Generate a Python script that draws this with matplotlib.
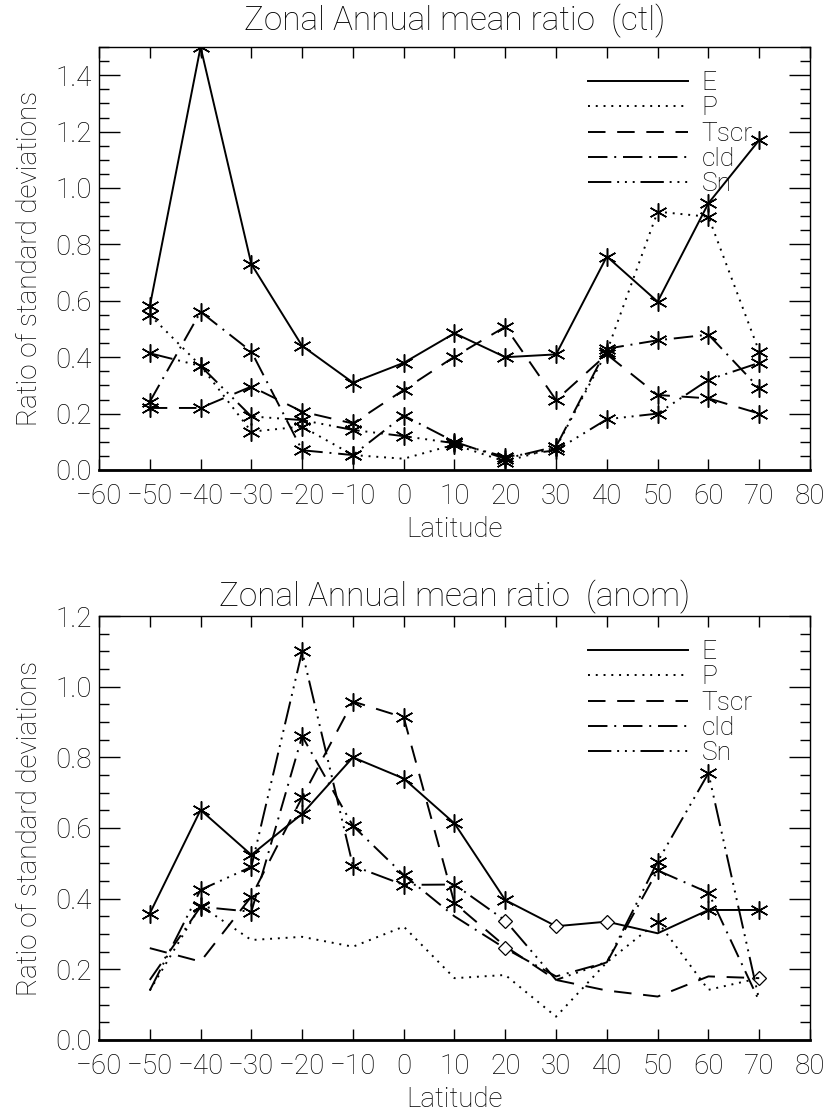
import matplotlib
matplotlib.use("Agg")
import matplotlib.pyplot as plt
import numpy as np

plt.rcParams['font.family'] = ['Roboto', 'DejaVu Sans']
plt.rcParams['font.weight'] = 'light'
plt.rcParams['axes.titleweight'] = 'light'
plt.rcParams['axes.labelweight'] = 'light'

lat = [-50, -40, -30, -20, -10, 0, 10, 20, 30, 40, 50, 60, 70]
series_names = ["E", "P", "Tscr", "cld", "Sn"]

# ctl panel
E_ctl    = [0.58, 1.50, 0.73, 0.44, 0.31, 0.38, 0.485, 0.40, 0.41, 0.757, 0.597, 0.946, 1.17]
P_ctl    = [0.55, 0.37, 0.136, 0.154, 0.053, 0.04, 0.09, 0.03, 0.08, 0.42, 0.916, 0.898, 0.42]
Tscr_ctl = [0.22, 0.22, 0.296, 0.207, 0.165, 0.284, 0.402, 0.508, 0.248, 0.41, 0.266, 0.254, 0.20]
cld_ctl  = [0.242, 0.561, 0.42, 0.07, 0.053, 0.193, 0.10, 0.04, 0.083, 0.43, 0.46, 0.48, 0.29]
Sn_ctl   = [0.414, 0.369, 0.19, 0.177, 0.142, 0.12, 0.095, 0.047, 0.07, 0.18, 0.20, 0.32, 0.38]
# marker codes: s = asterisk, d = diamond, n = none
E_ctl_m    = "sssssssssssss"
P_ctl_m    = "sssssnsssssss"
Tscr_ctl_m = "sssssssssssss"
cld_ctl_m  = "sssssssssssss"
Sn_ctl_m   = "sssssssssssss"

# anom panel
E_anom    = [0.358, 0.651, 0.524, 0.64, 0.80, 0.74, 0.613, 0.396, 0.322, 0.335, 0.302, 0.368, 0.368]
P_anom    = [0.14, 0.38, 0.283, 0.292, 0.264, 0.321, 0.175, 0.184, 0.066, 0.22, 0.335, 0.142, 0.175]
Tscr_anom = [0.26, 0.222, 0.406, 0.687, 0.958, 0.913, 0.387, 0.265, 0.17, 0.14, 0.123, 0.18, 0.175]
cld_anom  = [0.17, 0.377, 0.363, 0.86, 0.606, 0.467, 0.35, 0.259, 0.18, 0.22, 0.48, 0.417, 0.11]
Sn_anom   = [0.14, 0.425, 0.49, 1.10, 0.493, 0.439, 0.44, 0.338, 0.17, 0.22, 0.505, 0.755, 0.113]
E_anom_m    = "ssssssssddnss"
P_anom_m    = "nsnnnnnnnnsnd"
Tscr_anom_m = "nnsssssnnnnnn"
cld_anom_m  = "nsssssndnnssn"
Sn_anom_m   = "nssssssdnnssn"

xticks = [-60, -50, -40, -30, -20, -10, 0, 10, 20, 30, 40, 50, 60, 70, 80]

styles = {
    "E": "-",
    "P": (0, (1, 3)),
    "Tscr": (0, (9, 6)),
    "cld": (0, (10, 3.5, 1, 3.5)),
    "Sn": (0, (12, 3, 1, 3, 1, 3, 1, 3)),
}

fig = plt.figure(figsize=(8.29, 11.14), dpi=100)
W, H = 829, 1114

def add_ax(x0, x1, y0, y1):
    return fig.add_axes([x0 / W, 1 - y1 / H, (x1 - x0) / W, (y1 - y0) / H])

ast = (6, 2, 0)

def draw(ax, data, marks, ymax, yticks, title, title_pad):
    for name in series_names:
        y = data[name]
        ax.plot(lat, y, color='black', lw=1.4, linestyle=styles[name], label=name)
        m = marks[name]
        xs = [lat[i] for i in range(len(lat)) if m[i] == 's']
        ys = [y[i] for i in range(len(lat)) if m[i] == 's']
        ax.plot(xs, ys, linestyle='none', marker=ast, ms=13, mew=1.1, color='black')
        xd = [lat[i] for i in range(len(lat)) if m[i] == 'd']
        yd = [y[i] for i in range(len(lat)) if m[i] == 'd']
        ax.plot(xd, yd, linestyle='none', marker='D', ms=7, mew=0.9, mfc='white', mec='black')
    ax.set_xlim(-60, 80)
    ax.set_ylim(0, ymax)
    ax.set_xticks(xticks)
    ax.set_xticklabels([str(t).replace('-', '\u2212') for t in xticks])
    ax.set_yticks(yticks)
    ax.set_yticklabels(["%.1f" % t for t in yticks])
    ax.set_yticks(np.arange(0, ymax + 1e-9, 0.05), minor=True)
    ax.tick_params(axis='x', which='major', direction='in', length=8, width=1, top=True, bottom=True, labelsize=20, pad=9)
    ax.tick_params(axis='y', which='major', direction='in', length=15, width=1, left=True, right=True, labelsize=20, pad=5)
    ax.tick_params(axis='y', which='minor', direction='in', length=7, width=1, left=True, right=True)
    for s in ax.spines.values():
        s.set_linewidth(1.0)
    ax.spines['bottom'].set_linewidth(2.0)
    ax.set_xlabel("Latitude", fontsize=20, labelpad=5)
    ax.set_ylabel("Ratio of standard deviations", fontsize=20, labelpad=9)
    ax.set_title(title, fontsize=24, pad=title_pad)
    ax.legend(loc='upper left', bbox_to_anchor=(0.688, 0.943), frameon=False,
              handlelength=3.8, handletextpad=0.5, labelspacing=0.05, fontsize=19,
              borderpad=0, borderaxespad=0)

ax1 = add_ax(99, 810, 47, 470)
draw(ax1,
     {"E": E_ctl, "P": P_ctl, "Tscr": Tscr_ctl, "cld": cld_ctl, "Sn": Sn_ctl},
     {"E": E_ctl_m, "P": P_ctl_m, "Tscr": Tscr_ctl_m, "cld": cld_ctl_m, "Sn": Sn_ctl_m},
     1.5, [0.0, 0.2, 0.4, 0.6, 0.8, 1.0, 1.2, 1.4],
     "Zonal Annual mean ratio  (ctl)", 12)

ax2 = add_ax(99, 810, 616, 1040)
draw(ax2,
     {"E": E_anom, "P": P_anom, "Tscr": Tscr_anom, "cld": cld_anom, "Sn": Sn_anom},
     {"E": E_anom_m, "P": P_anom_m, "Tscr": Tscr_anom_m, "cld": cld_anom_m, "Sn": Sn_anom_m},
     1.2, [0.0, 0.2, 0.4, 0.6, 0.8, 1.0, 1.2],
     "Zonal Annual mean ratio  (anom)", 7)

fig.savefig("out.png", dpi=100)
